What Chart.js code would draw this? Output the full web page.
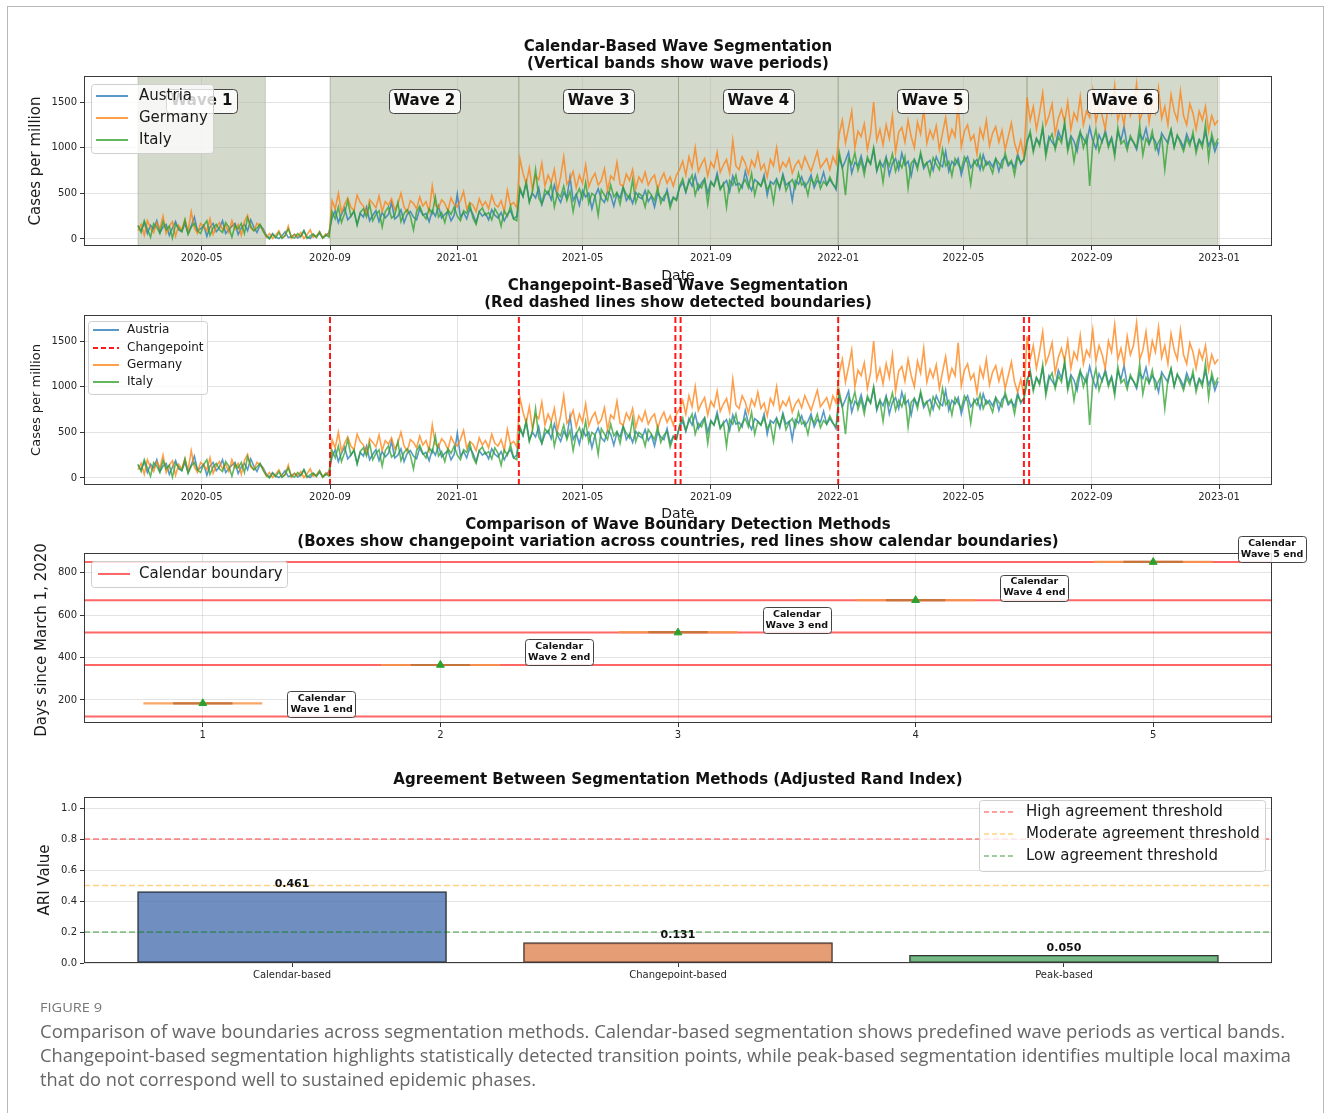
<!DOCTYPE html>
<html>
<head>
<meta charset="utf-8">
<script src="https://cdn.jsdelivr.net/npm/chart.js@4.4.1/dist/chart.umd.min.js"></script>
<style>
html,body{margin:0;padding:0;background:#fff;width:1330px;height:1113px;overflow:hidden;}
canvas{position:absolute;left:0;top:0;}
#frame{position:absolute;left:7px;top:6px;width:1315px;height:1200px;border:1px solid #b8b8b8;}
.cap{position:absolute;left:40px;white-space:nowrap;font-family:"Open Sans",sans-serif;color:#666;transform-origin:0 50%;}
#figlab{top:999px;font-size:13px;line-height:16px;color:#777;}
.line{font-size:18px;line-height:24px;}
</style>
</head>
<body>
<div id="frame"></div>
<canvas id="c1" width="1330" height="1113"></canvas>
<canvas id="c2" width="1330" height="1113"></canvas>
<canvas id="c3" width="1330" height="1113"></canvas>
<canvas id="c4" width="1330" height="1113"></canvas>
<div id="figlab" class="cap" data-w="62">FIGURE 9</div>
<div class="cap line" style="top:1019px" data-w="1245">Comparison of wave boundaries across segmentation methods. Calendar-based segmentation shows predefined wave periods as vertical bands.</div>
<div class="cap line" style="top:1043px" data-w="1251">Changepoint-based segmentation highlights statistically detected transition points, while peak-based segmentation identifies multiple local maxima</div>
<div class="cap line" style="top:1067px" data-w="496">that do not correspond well to sustained epidemic phases.</div>
<script>
// ---------------- DATA ----------------
const SERIES_START = '2020-03-01';
const STEP_DAYS = 3;
const countries = ['Austria', 'Germany', 'Italy'];
const austria = [
140,90,180,60,150,110,200,70,130,160,40,120,190,100,80,170,60,140,240,90,110,150,30,130,170,80,120,200,60,100,140,170,50,120,160,90,210,130,70,150,110,
40,10,60,20,5,35,80,15,25,50,10,30,90,20,5,45,25,60,15,35,70,
230,310,180,270,340,210,250,300,160,280,240,350,200,260,310,190,290,230,270,400,220,250,320,180,270,300,240,210,330,260,280,190,310,250,360,230,270,300,200,260,490,240,290,220,330,270,180,300,250,280,210,320,260,230,290,200,270,310,220,250,
540,460,620,410,500,450,560,380,480,520,430,590,470,400,510,450,680,420,490,370,530,460,500,330,470,550,440,400,520,480,360,500,450,570,420,480,390,510,460,440,530,410,470,350,500,450,420,540,380,460,430,
560,620,510,650,580,700,540,610,660,500,630,580,720,550,600,640,520,690,590,610,560,740,600,530,650,620,580,700,480,630,600,660,550,710,590,620,420,640,600,680,570,620,700,560,640,610,730,590,650,600,540,
900,780,860,950,720,840,800,910,760,870,820,980,740,850,790,900,700,830,880,760,940,810,850,690,870,800,920,770,830,860,750,900,820,790,960,740,850,810,880,700,840,900,780,830,870,760,920,810,850,790,880,740,860,900,800,840,780,930,820,870,
1080,1150,980,1100,1040,1200,950,1120,1060,1010,1180,1090,1250,1000,1130,1070,960,1160,1100,1040,1220,1080,990,1140,1060,1190,1030,1110,950,1170,1080,1230,1020,1100,1060,980,1150,1090,1210,1040,1120,1070,940,1160,1100,1050,1190,1010,1130,1080,1000,1150,1060,1120,990,1090,1040,1170,1020,1100,960,1060];
const germany = [
90,160,40,200,120,70,180,110,250,60,140,190,30,150,100,210,80,300,120,60,170,140,90,220,50,130,180,100,150,70,200,110,160,40,190,260,120,90,170,140,100,
20,60,5,40,90,15,30,140,10,50,25,70,5,45,100,20,35,80,10,55,30,
420,330,500,290,380,450,350,310,480,400,360,270,430,390,340,470,300,410,370,440,320,380,500,350,290,420,390,330,460,360,410,300,580,370,340,430,390,310,450,380,350,420,520,330,400,370,300,440,360,410,330,480,380,350,420,300,530,370,400,340,
880,720,600,780,540,690,650,830,580,700,620,760,520,680,900,600,650,740,560,700,610,810,570,660,720,590,640,770,530,690,650,840,600,580,710,640,760,550,680,620,730,590,660,700,540,650,720,610,680,580,700,
760,850,700,900,780,1000,740,820,880,690,840,780,950,730,810,870,720,1080,800,760,900,830,710,860,790,940,760,820,680,870,800,1000,750,840,790,880,720,810,860,770,900,820,740,850,960,780,830,880,760,900,820,
1150,1300,1050,1220,1400,1000,1180,1120,1260,980,1150,1500,1080,1200,1030,1250,1100,1350,950,1170,1220,1060,1300,1120,1000,1280,1150,1420,1050,1190,1100,1240,980,1160,1330,1070,1200,1120,1480,1010,1180,1250,1080,1140,930,1210,1100,1300,1020,1160,1230,1060,1190,980,1120,1270,1050,940,1080,900,
1550,1300,1450,1200,1380,1600,1250,1350,1480,1150,1320,1420,1280,1500,1200,1380,1300,1560,1250,1400,1330,1620,1280,1450,1350,1200,1500,1380,1680,1300,1420,1250,1550,1350,1450,1700,1300,1400,1600,1280,1500,1380,1650,1320,1450,1250,1580,1400,1300,1620,1350,1250,1480,1380,1200,1400,1300,1450,1180,1350,1250,1300];
const italy = [
150,70,200,110,20,170,130,60,190,100,140,10,160,120,80,210,50,130,170,90,60,150,200,40,120,160,100,70,180,130,20,150,110,170,60,230,140,90,120,160,80,
30,0,50,15,70,5,40,110,20,10,60,25,90,5,35,55,15,80,10,45,20,
300,220,350,180,280,420,250,310,150,290,330,240,380,200,270,310,130,300,350,230,260,400,190,280,320,250,100,300,360,270,220,330,280,460,240,290,180,320,270,350,250,200,310,280,380,230,160,300,340,260,290,210,330,270,140,310,250,360,220,200,
560,470,620,400,520,760,450,380,540,490,600,350,500,460,580,420,520,300,480,550,440,620,390,500,470,260,540,480,420,590,460,510,380,560,490,440,650,400,500,470,350,530,480,420,560,390,470,510,340,450,420,
580,660,520,620,700,480,600,560,650,380,620,580,680,540,610,350,640,590,700,520,600,650,560,720,480,620,580,660,540,600,400,640,570,690,530,610,650,560,720,590,620,480,660,600,700,550,630,590,680,600,560,
950,780,480,880,820,940,750,860,700,900,820,1000,760,850,620,880,800,930,740,850,780,900,560,830,870,760,950,800,840,700,890,820,760,980,800,850,690,880,820,760,900,840,600,860,800,920,760,850,810,720,880,830,780,940,820,860,700,900,840,870,
1050,1180,950,1100,1020,1240,900,1080,1150,980,1120,1050,1280,960,1100,850,1060,1180,1000,1120,580,1040,1200,960,1080,1150,1000,1100,900,1220,1040,1080,970,1130,1060,1000,1250,920,1100,1040,1180,980,1060,1120,760,1080,1200,1000,1140,1050,960,1100,1020,1170,940,1080,1000,1260,880,1150,1020,1100];
const dateTickLabels = ['2020-05','2020-09','2021-01','2021-05','2021-09','2022-01','2022-05','2022-09','2023-01'];
const caseTicks = [0, 500, 1000, 1500];
const waveNames = ['Wave 1','Wave 2','Wave 3','Wave 4','Wave 5','Wave 6'];
const waveStarts = ['2020-03-01','2020-09-01','2021-03-01','2021-08-01','2022-01-01','2022-07-01'];
const waveEnds   = ['2020-07-01','2021-03-01','2021-08-01','2022-01-01','2022-07-01','2022-12-31'];
const changepointDates = ['2020-09-01','2021-03-01','2021-07-29','2021-08-03','2022-01-01','2022-06-28','2022-07-03'];
const boundaryIndex = [1, 2, 3, 4, 5];
const calendarBoundaryDays = [122, 365, 518, 671, 852];
const changepointMedianDays = [184, 365, 520, 671, 852];
const changepointMeanDays = [184, 365, 518, 671, 851];
const dayTicks = [200, 400, 600, 800];
const methods = ['Calendar-based', 'Changepoint-based', 'Peak-based'];
const ariValues = [0.461, 0.131, 0.050];
const thresholdNames = ['High agreement threshold', 'Moderate agreement threshold', 'Low agreement threshold'];
const thresholdValues = [0.8, 0.5, 0.2];
const ariTicks = [0, 0.2, 0.4, 0.6, 0.8, 1.0];

// ---------------- HELPERS ----------------
const F = "'DejaVu Sans', sans-serif";
Chart.defaults.font.family = F;
const H = 1113;
const DAY0 = Date.UTC(2020, 2, 1);
function dayOf(s){const p=s.split('-').map(Number);return (Date.UTC(p[0],p[1]-1,p[2]||1)-DAY0)/86400000;}
const startOffset = dayOf(SERIES_START);
function series(vals){return vals.map((v,i)=>({x:startOffset+i*STEP_DAYS,y:v}));}
const COL = {Austria:'rgba(31,119,180,0.75)', Germany:'rgba(255,127,14,0.75)', Italy:'rgba(44,160,44,0.75)'};
const VALS = {Austria:austria, Germany:germany, Italy:italy};
const ORD = {Austria:3, Germany:2, Italy:1};

function txt(ctx,s,x,y,size,o){o=o||{};ctx.save();ctx.font=(o.bold?'bold ':'')+size+'px '+F;ctx.fillStyle=o.color||'#111';ctx.textAlign=o.align||'center';ctx.textBaseline=o.base||'middle';
  if(o.rot){ctx.translate(x,y);ctx.rotate(o.rot);ctx.fillText(s,0,0);}else ctx.fillText(s,x,y);ctx.restore();}
function rrect(ctx,x,y,w,h,r){ctx.beginPath();ctx.moveTo(x+r,y);ctx.arcTo(x+w,y,x+w,y+h,r);ctx.arcTo(x+w,y+h,x,y+h,r);ctx.arcTo(x,y+h,x,y,r);ctx.arcTo(x,y,x+w,y,r);ctx.closePath();}
function frame(c){const {ctx,chartArea:a}=c;ctx.save();ctx.strokeStyle='#3a3a3a';ctx.lineWidth=1;
  ctx.strokeRect(Math.round(a.left)+0.5,Math.round(a.top)+0.5,Math.round(a.right-a.left)-1,Math.round(a.bottom-a.top)-1);ctx.restore();}
function legend(ctx,box,items,o){ctx.save();rrect(ctx,box.x+.5,box.y+.5,box.w,box.h,3);ctx.fillStyle='rgba(255,255,255,0.8)';ctx.fill();ctx.strokeStyle='#cfcfcf';ctx.lineWidth=1;ctx.stroke();
  items.forEach((it,i)=>{const y=o.ys[i];ctx.beginPath();ctx.setLineDash(it.dash||[]);ctx.strokeStyle=it.color;ctx.lineWidth=it.lw||2;ctx.moveTo(o.x0,y);ctx.lineTo(o.x1,y);ctx.stroke();ctx.setLineDash([]);
    txt(ctx,it.label,o.tx,y,o.size,{align:'left',color:'#1a1a1a'});});ctx.restore();}
function labelBox(ctx,lines,cx,cy,size,pad,lh,r){ctx.save();ctx.font='bold '+size+'px '+F;
  const w=Math.max(...lines.map(l=>ctx.measureText(l).width))+pad*2;const h=lines.length*lh+pad*2-2;
  rrect(ctx,Math.round(cx-w/2)+.5,Math.round(cy-h/2)+.5,Math.round(w),Math.round(h),r);ctx.fillStyle='rgba(255,255,255,0.85)';ctx.fill();ctx.strokeStyle='#444';ctx.lineWidth=1;ctx.stroke();
  lines.forEach((l,i)=>txt(ctx,l,cx,cy-(lines.length-1)*lh/2+i*lh,size,{bold:true,color:'#111'}));ctx.restore();}

const GRID = 'rgba(176,176,176,0.35)';
function timeX(bottom){
  const vals = dateTickLabels.map(l=>dayOf(l+'-01'));
  return {type:'linear',min:-51.75,max:1086.75,offset:false,
    afterFit(s){s.height=H-bottom;},
    afterBuildTicks(s){s.ticks=vals.map(v=>({value:v}));},
    ticks:{autoSkip:false,maxRotation:0,minRotation:0,padding:2,font:{family:F,size:10},color:'#262626',callback:(v,i)=>dateTickLabels[i]},
    grid:{color:GRID,lineWidth:1,drawTicks:true,tickLength:4,tickColor:'#333'},border:{display:false}};
}
function yLin(min,max,tickVals,fmt){
  return {type:'linear',min:min,max:max,
    afterFit(s){s.width=84;},
    afterBuildTicks(s){s.ticks=tickVals.map(v=>({value:v}));},
    ticks:{padding:3,font:{family:F,size:10},color:'#262626',callback:(v,i)=>fmt(tickVals[i])},
    grid:{color:GRID,lineWidth:1,drawTicks:true,tickLength:4,tickColor:'#333'},border:{display:false}};
}
function baseOptions(top,scales){
  return {responsive:false,animation:false,events:[],
    layout:{padding:{top:top,left:0,right:58,bottom:0}},
    plugins:{legend:{display:false},title:{display:false},tooltip:{enabled:false}},
    elements:{point:{radius:0},line:{tension:0}},scales:scales};
}
function countryDatasets(){return countries.map(c=>({type:'line',label:c,data:series(VALS[c]),borderColor:COL[c],borderWidth:1.6,pointRadius:0,order:ORD[c]}));}

// ---------------- PANEL 1 ----------------
new Chart(document.getElementById('c1'),{
  type:'line',
  data:{datasets:countryDatasets()},
  options:baseOptions(76,{x:timeX(246),y:yLin(-77,1785,caseTicks,v=>String(v))}),
  plugins:[{id:'p1',
    beforeDraw(c){const {ctx,chartArea:a,scales:{x}}=c;ctx.save();ctx.fillStyle='rgba(85,107,47,0.25)';ctx.strokeStyle='rgba(85,107,47,0.25)';ctx.lineWidth=1;
      waveStarts.forEach((s,i)=>{const x0=x.getPixelForValue(dayOf(s)),x1=x.getPixelForValue(dayOf(waveEnds[i]));
        ctx.fillRect(x0,a.top,x1-x0,a.bottom-a.top);ctx.beginPath();ctx.moveTo(x0,a.top);ctx.lineTo(x0,a.bottom);ctx.moveTo(x1,a.top);ctx.lineTo(x1,a.bottom);ctx.stroke();});
      ctx.restore();},
    afterDatasetsDraw(c){const {ctx,scales:{x,y}}=c;
      waveStarts.forEach((s,i)=>{const cx=(x.getPixelForValue(dayOf(s))+x.getPixelForValue(dayOf(waveEnds[i])))/2;
        labelBox(ctx,[waveNames[i]],cx,y.getPixelForValue(1510),15,4.5,17,4);});
      frame(c);},
    afterDraw(c){const ctx=c.ctx;
      txt(ctx,'Calendar-Based Wave Segmentation',678,47,15,{bold:true});
      txt(ctx,'(Vertical bands show wave periods)',678,64,15,{bold:true});
      txt(ctx,'Date',678,276,14,{color:'#1a1a1a'});
      txt(ctx,'Cases per million',36,161,15,{rot:-Math.PI/2,color:'#1a1a1a'});
      legend(ctx,{x:91,y:84,w:122,h:69},countries.map(k=>({label:k,color:COL[k]})),{size:15,x0:96,x1:128,tx:139,ys:[96,118,140]});
    }}]
});

// ---------------- PANEL 2 ----------------
const cpData=[];changepointDates.forEach(d=>{const v=dayOf(d);cpData.push({x:v,y:-77},{x:v,y:1785},{x:v,y:null});});
const ds2=countryDatasets();
ds2.splice(1,0,{type:'line',label:'Changepoint',data:cpData,borderColor:'rgba(255,0,0,0.9)',borderWidth:2,borderDash:[6,3],pointRadius:0,order:0,spanGaps:false});
new Chart(document.getElementById('c2'),{
  type:'line',
  data:{datasets:ds2},
  options:baseOptions(315,{x:timeX(485),y:yLin(-77,1785,caseTicks,v=>String(v))}),
  plugins:[{id:'p2',
    afterDatasetsDraw(c){frame(c);},
    afterDraw(c){const ctx=c.ctx;
      txt(ctx,'Changepoint-Based Wave Segmentation',678,286,15,{bold:true});
      txt(ctx,'(Red dashed lines show detected boundaries)',678,303,15,{bold:true});
      txt(ctx,'Date',678,514,14,{color:'#1a1a1a'});
      txt(ctx,'Cases per million',37,400,13,{rot:-Math.PI/2,color:'#1a1a1a'});
      legend(ctx,{x:88,y:321,w:119,h:73},[
        {label:'Austria',color:COL.Austria},{label:'Changepoint',color:'rgba(255,0,0,0.9)',dash:[5,3]},
        {label:'Germany',color:COL.Germany},{label:'Italy',color:COL.Italy}],{size:12,x0:93,x1:119,tx:127,ys:[330,348,365,382]});
    }}]
});

// ---------------- PANEL 3 ----------------
const bData=[];calendarBoundaryDays.forEach(b=>{bData.push({x:0.5,y:b},{x:5.5,y:b},{x:5.5,y:null});});
const medData=[],capData=[];
boundaryIndex.forEach((p,i)=>{const m=changepointMedianDays[i];
  medData.push({x:p-0.25,y:m},{x:p+0.25,y:m},{x:p+0.25,y:null});
  capData.push({x:p-0.125,y:m},{x:p+0.125,y:m},{x:p+0.125,y:null});});
const meanData=boundaryIndex.map((p,i)=>({x:p,y:changepointMeanDays[i]}));
new Chart(document.getElementById('c3'),{
  type:'line',
  data:{datasets:[
    {type:'line',label:'Calendar boundary',data:bData,borderColor:'rgba(255,20,20,0.65)',borderWidth:2,pointRadius:0,order:3},
    {type:'line',label:'median',data:medData,borderColor:'rgba(245,150,75,0.85)',borderWidth:2.2,pointRadius:0,order:2},
    {type:'line',label:'caps',data:capData,borderColor:'rgba(195,115,60,0.95)',borderWidth:2.2,pointRadius:0,order:1},
    {type:'scatter',label:'mean',data:meanData,pointStyle:'triangle',pointRadius:4.5,backgroundColor:'#2ca02c',borderColor:'#2ca02c',borderWidth:1,order:0}]},
  options:baseOptions(553,{
    x:{type:'linear',min:0.5,max:5.5,offset:false,afterFit(s){s.height=H-723;},
       afterBuildTicks(s){s.ticks=boundaryIndex.map(v=>({value:v}));},
       ticks:{autoSkip:false,maxRotation:0,padding:2,font:{family:F,size:10},color:'#262626',callback:(v,i)=>String(boundaryIndex[i])},
       grid:{color:GRID,lineWidth:1,drawTicks:true,tickLength:4,tickColor:'#333'},border:{display:false}},
    y:yLin(91,894,dayTicks,v=>String(v))}),
  plugins:[{id:'p3',
    afterDatasetsDraw(c){frame(c);},
    afterDraw(c){const {ctx,scales:{x,y}}=c;
      txt(ctx,'Comparison of Wave Boundary Detection Methods',678,525,15,{bold:true});
      txt(ctx,'(Boxes show changepoint variation across countries, red lines show calendar boundaries)',678,542,15,{bold:true});
      txt(ctx,'Days since March 1, 2020',42,640,15,{rot:-Math.PI/2,color:'#1a1a1a'});
      calendarBoundaryDays.forEach((b,i)=>labelBox(ctx,['Calendar','Wave '+(i+1)+' end'],x.getPixelForValue(boundaryIndex[i]+0.5),y.getPixelForValue(b+60),9.5,3,11,3));
      legend(ctx,{x:91,y:561,w:196,h:26},[{label:'Calendar boundary',color:'rgba(255,20,20,0.65)'}],{size:15,x0:98,x1:130,tx:139,ys:[574]});
    }}]
});

// ---------------- PANEL 4 ----------------
const barFill=['rgba(76,114,176,0.8)','rgba(221,132,82,0.8)','rgba(85,168,104,0.8)'];
const thrCol=['rgba(255,0,0,0.5)','rgba(255,165,0,0.5)','rgba(0,128,0,0.5)'];
const XMIN=-0.539, XMAX=2.539;
new Chart(document.getElementById('c4'),{
  type:'bar',
  data:{datasets:[
    {type:'bar',label:'ARI',data:ariValues.map((v,i)=>({x:i,y:v})),backgroundColor:barFill,borderColor:'#333',borderWidth:1.2,borderSkipped:false,barThickness:309,order:5},
    ...thresholdValues.map((t,i)=>({type:'line',label:thresholdNames[i],data:[{x:XMIN,y:t},{x:XMAX,y:t}],borderColor:thrCol[i],borderWidth:1.5,borderDash:[6,3],pointRadius:0,order:i+1}))]},
  options:baseOptions(797,{
    x:{type:'linear',min:XMIN,max:XMAX,offset:false,afterFit(s){s.height=H-963;},
       afterBuildTicks(s){s.ticks=methods.map((m,i)=>({value:i}));},
       ticks:{autoSkip:false,maxRotation:0,padding:2,font:{family:F,size:10},color:'#262626',callback:(v,i)=>methods[i]},
       grid:{display:true,drawOnChartArea:false,drawTicks:true,tickLength:4,tickColor:'#333',offset:false},border:{display:false}},
    y:yLin(0,1.071,ariTicks,v=>v.toFixed(1))}),
  plugins:[{id:'p4',
    afterDatasetsDraw(c){const ctx=c.ctx;const meta=c.getDatasetMeta(0);
      meta.data.forEach((el,i)=>txt(ctx,ariValues[i].toFixed(3),el.x,el.y-2,11,{bold:true,base:'bottom'}));
      frame(c);},
    afterDraw(c){const ctx=c.ctx;
      txt(ctx,'Agreement Between Segmentation Methods (Adjusted Rand Index)',678,780,15,{bold:true});
      txt(ctx,'ARI Value',45,880,15,{rot:-Math.PI/2,color:'#1a1a1a'});
      legend(ctx,{x:979,y:800,w:286,h:71},thresholdNames.map((n,i)=>({label:n,color:thrCol[i],dash:[5,3],lw:1.5})),{size:15,x0:984,x1:1016,tx:1026,ys:[812,834,856]});
    }}]
});

// ---------------- caption fit ----------------
function fitCaps(){document.querySelectorAll('.cap').forEach(el=>{const w=el.getBoundingClientRect().width;const t=+el.dataset.w;if(w>0)el.style.transform='scaleX('+(t/w)+')';});}
if(document.fonts&&document.fonts.ready){document.fonts.ready.then(fitCaps);}else fitCaps();
</script>
</body>
</html>
